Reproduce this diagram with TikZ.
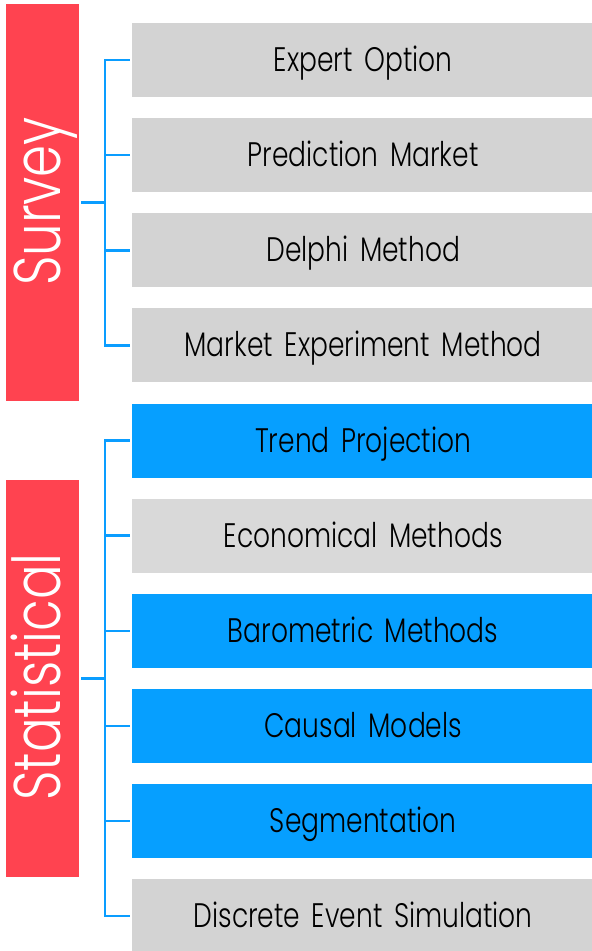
\documentclass[tikz,border=0pt]{standalone}
\usepackage{fontspec}
\setmainfont{Poppins Light}[FakeStretch=0.78, WordSpace=1.6]
\definecolor{barred}{HTML}{FF4350}
\definecolor{itemblue}{HTML}{069FFF}
\definecolor{itemgray}{HTML}{D3D3D3}
\definecolor{itemlight}{HTML}{D9D9D9}
\definecolor{linkblue}{HTML}{0A9DFF}
\tikzset{
  groupbar/.style={fill=barred, draw=none, minimum width=73pt, minimum height=397pt, inner sep=0pt},
  grouplabel/.style={rotate=90, text=white, inner sep=0pt, text height=46pt, text depth=0pt,
    font=\fontsize{66}{66}\selectfont},
  item/.style={draw=none, anchor=west, minimum width=462pt, minimum height=74pt, inner sep=0pt,
    text height=23pt, text depth=0pt, text=black, font=\fontsize{34}{34}\selectfont},
  grayitem/.style={item, fill=itemgray},
  lightitem/.style={item, fill=itemlight},
  blueitem/.style={item, fill=itemblue},
  conn/.style={draw=linkblue, line width=2.5pt, line join=miter, line cap=rect},
}
\begin{document}
\begin{tikzpicture}[x=1pt,y=-1pt]
\useasboundingbox (0,0) rectangle (592,951);

% group bars with their rotated titles
\node[groupbar] (survey) at (42.5,202.5) {};
\node[grouplabel] (surveytxt) at (37,201.5) {Survey};
\node[groupbar] (stat) at (42.5,678.5) {};
\node[grouplabel] (stattxt) at (37,677) {Statistical};

% survey methods
\node[grayitem] (e1) at (132,60) {Expert Option};
\node[grayitem] (e2) at (132,155.1) {Prediction Market};
\node[grayitem] (e3) at (132,250.3) {Delphi Method};
\node[grayitem] (e4) at (132,345.4) {Market Experiment Method};

% statistical methods
\node[blueitem]  (s1) at (132,440.6) {Trend Projection};
\node[lightitem] (s2) at (132,535.7) {Economical Methods};
\node[blueitem]  (s3) at (132,630.8) {Barometric Methods};
\node[blueitem]  (s4) at (132,726) {Causal Models};
\node[blueitem]  (s5) at (132,821.1) {Segmentation};
\node[grayitem]  (s6) at (132,916.2) {Discrete Event Simulation};

% bracket spines
\coordinate (spA) at (105,0);
\coordinate (spB) at (105,0);

% survey bracket
\draw[conn] ([xshift=3pt]survey.east) -- (survey.east -| spA);
\draw[conn] ([xshift=-3pt]e1.west) -| (spA |- e4.west) -- ([xshift=-3pt]e4.west);
\draw[conn] ([xshift=-3pt]e2.west) -- (e2.west -| spA);
\draw[conn] ([xshift=-3pt]e3.west) -- (e3.west -| spA);

% statistical bracket
\draw[conn] ([xshift=3pt]stat.east) -- (stat.east -| spB);
\draw[conn] ([xshift=-3pt]s1.west) -| (spB |- s6.west) -- ([xshift=-3pt]s6.west);
\foreach \n in {s2,s3,s4,s5}
  \draw[conn] ([xshift=-3pt]\n.west) -- (\n.west -| spB);
\end{tikzpicture}
\end{document}
